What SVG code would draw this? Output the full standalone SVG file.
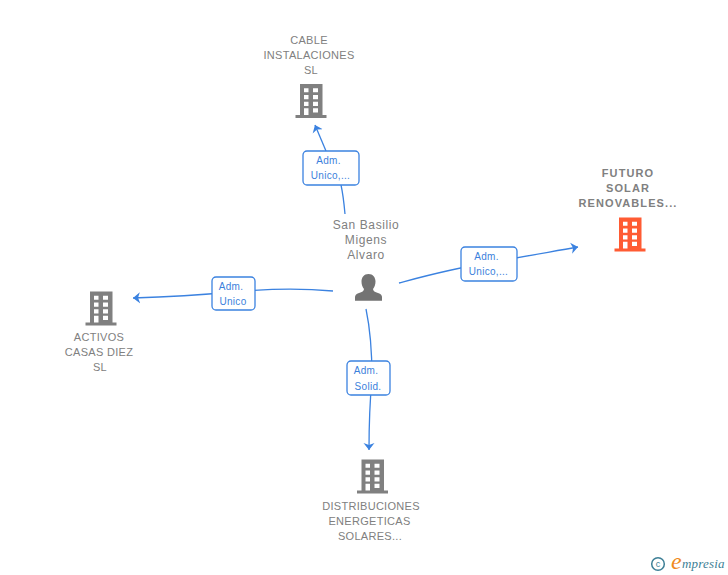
<svg xmlns="http://www.w3.org/2000/svg" width="728" height="575" viewBox="0 0 728 575">
<style>
.n{font:11px "Liberation Sans",Arial,sans-serif;fill:#808080;text-anchor:middle;letter-spacing:.3px}
.b{font-weight:bold;letter-spacing:1.100px}
.p{font-size:12px;letter-spacing:.6px}
.l{font:10px "Liberation Sans",Arial,sans-serif;fill:#3b7fdc;text-anchor:middle;letter-spacing:.3px}
.c{fill:none;stroke:#3b82e0;stroke-width:1.300}
.box{fill:#fff;stroke:#3b82e0;stroke-width:1.300}
</style>
<defs>
<path id="bld" fill-rule="evenodd" d="M4.500 0H27V31H31V34H0V31H4.500ZM8.500 4.300V8.300H13V4.300ZM17.500 4.300V8.300H22.500V4.300ZM8.500 11V15.300H13V11ZM17.500 11V15.300H22.500V11ZM8.500 17.700V22H13V17.700ZM17.500 17.700V22H22.500V17.700ZM8.500 24.300V31H13V24.300ZM17.500 24.300V28.600H22.500V24.300Z"/>
<marker id="a" markerWidth="9" markerHeight="12" refX="7" refY="6" orient="auto" markerUnits="userSpaceOnUse"><path d="M0 .5L7 6L0 11.500L2 6Z" fill="#3b82e0"/></marker>
</defs>
<g id="connectors">
<path class="c" d="M345 214C344 203 343 194 341 185"/>
<path class="c" marker-end="url(#a)" d="M326 151L315 125"/>
<path class="c" marker-end="url(#a)" d="M399 283C425 276 450 269 488 263C520 257 550 252 578 247"/>
<path class="c" marker-end="url(#a)" d="M333 291C310 289 275 288 233 292C200 295 165 297 133 298"/>
<path class="c" marker-end="url(#a)" d="M366 309C370 328 372 350 372 378C370 400 369 425 369 450"/>
</g>
<g id="edge-labels">
<g><rect class="box" x="303" y="151" width="56" height="34" rx="4"/><text class="l" x="328.500" y="164">Adm.</text><text class="l" x="330.500" y="179">Unico,...</text></g>
<g><rect class="box" x="461" y="247" width="56" height="34" rx="4"/><text class="l" x="486.500" y="260">Adm.</text><text class="l" x="488.500" y="275">Unico,...</text></g>
<g><rect class="box" x="212" y="277" width="43" height="33" rx="4"/><text class="l" x="231" y="290">Adm.</text><text class="l" x="233" y="305">Unico</text></g>
<g><rect class="box" x="347" y="361" width="43" height="34" rx="4"/><text class="l" x="366" y="374">Adm.</text><text class="l" x="368" y="390">Solid.</text></g>
</g>
<g id="node-cable"><text class="n" x="309" y="44">CABLE</text><text class="n" x="309" y="59">INSTALACIONES</text><text class="n" x="311" y="74">SL</text><use href="#bld" x="295.500" y="84" fill="#808080"/></g>
<g id="node-futuro"><text class="n b" x="628" y="177">FUTURO</text><text class="n b" x="628" y="192">SOLAR</text><text class="n b" x="628" y="207">RENOVABLES...</text><use href="#bld" x="614.500" y="217.500" fill="#ff5b33"/></g>
<g id="node-activos"><text class="n" x="99" y="341">ACTIVOS</text><text class="n" x="99" y="356">CASAS DIEZ</text><text class="n" x="100" y="371">SL</text><use href="#bld" x="85.500" y="291.500" fill="#808080"/></g>
<g id="node-distribuciones"><text class="n" x="371" y="510">DISTRIBUCIONES</text><text class="n" x="369.500" y="525">ENERGETICAS</text><text class="n" x="370" y="540">SOLARES...</text><use href="#bld" x="357" y="459.500" fill="#808080"/></g>
<g id="node-person"><text class="n p" x="366" y="229">San Basilio</text><text class="n p" x="366" y="244">Migens</text><text class="n p" x="366" y="259">Alvaro</text>
<path fill="#737373" d="M368.500 274C373 274 375.500 277.500 375.500 281.500C375.500 284.500 374.500 287 373 289C373 291 375 292 378 293C381 294 382 295.500 382 297V300.700H355V297C355 295.500 356 294 359 293C362 292 364 291 364 289C362.500 287 361.500 284.500 361.500 281.500C361.500 277.500 364 274 368.500 274Z"/></g>
<g id="logo"><circle cx="658" cy="564" r="6.300" fill="none" stroke="#3d7f96" stroke-width="1.500"/><text x="658" y="567" font-family="Liberation Sans,sans-serif" font-size="9" fill="#3d7f96" text-anchor="middle">c</text>
<text x="671" y="569" font-family="Liberation Serif,serif" font-style="italic" font-size="24" fill="#f08a1d">e</text><text x="682" y="568" font-family="Liberation Serif,serif" font-style="italic" font-size="13" fill="#3d7f96" letter-spacing=".2">mpresia</text></g>
</svg>
